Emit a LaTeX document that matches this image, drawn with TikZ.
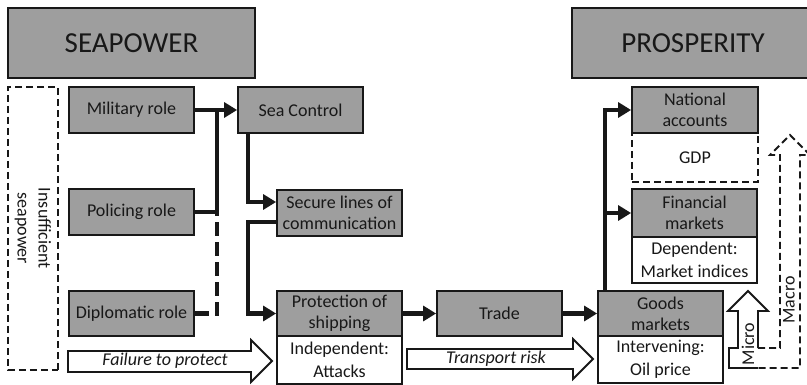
\documentclass[tikz,border=0pt]{standalone}
\usepackage{fontspec}
\setmainfont{Carlito}
\usetikzlibrary{arrows.meta}
\definecolor{boxgray}{RGB}{158,158,158}
\definecolor{ink}{RGB}{24,24,24}

\begin{document}
\begin{tikzpicture}[x=1pt,y=-1pt,
  base/.style={draw=ink, line width=1.8pt, inner sep=0pt, align=center, text=ink,
               font=\fontsize{18}{21}\selectfont},
  gbox/.style={base, fill=boxgray, minimum width=125pt, minimum height=46pt},
  wbox/.style={base, fill=white, minimum width=125pt, minimum height=47pt,
               font=\fontsize{18}{23}\selectfont},
  titlebox/.style={base, fill=boxgray, minimum height=70pt,
               font=\fontsize{29}{32}\selectfont},
  dbox/.style={base, dash pattern=on 7pt off 4pt},
  conn/.style={draw=ink, line width=4.2pt, line join=miter},
  arr/.style={-{Triangle[length=13pt,width=15pt]}},
  block/.style={draw=ink, line width=1.8pt, fill=white, line join=miter},
  lbl/.style={text=ink, inner sep=0pt, font=\fontsize{18}{21}\selectfont\itshape},
  vlbl/.style={text=ink, inner sep=0pt, font=\fontsize{18}{21}\selectfont},
]
\useasboundingbox (0,0) rectangle (807,385);

% headline boxes
\node[titlebox, minimum width=247pt] (seapower) at (131.5,43) {SEAPOWER};
\node[titlebox, minimum width=242pt] (prosperity) at (693,43) {PROSPERITY};

% roles of seapower
\node[dbox, minimum width=283pt, minimum height=50pt, rotate=-90] (insuff) at (33,228.5)
  {Insufficient\\seapower};
\node[gbox] (military) at (131.5,110) {Military role};
\node[gbox] (policing) at (131.5,212) {Policing role};
\node[gbox, minimum height=45pt] (diplomatic) at (131.5,313.5) {Diplomatic role};

% sea control chain
\node[gbox] (seacontrol) at (300.5,110) {Sea Control};
\node[gbox] (secure) at (339.5,213) {Secure lines of\\communication};
\node[gbox, minimum height=45pt] (protection) at (339.5,313.5) {Protection of\\shipping};
\node[wbox, minimum height=48pt] (protectionw) at (339.5,360) {Independent:\\Attacks};
\node[gbox, minimum height=45pt] (trade) at (499.5,313.5) {Trade};

% prosperity side
\node[gbox, minimum height=45pt] (goods) at (660.5,313.5) {Goods\\markets};
\node[wbox] (goodsw) at (660.5,359.5) {Intervening:\\Oil price};
\node[dbox, minimum width=126pt, minimum height=49pt] (gdp) at (695,157.5) {GDP};
\node[gbox, minimum width=126pt] (national) at (695,110) {National\\accounts};
\node[gbox, minimum height=48pt] (financial) at (694.5,213) {Financial\\markets};
\node[wbox, minimum height=46pt] (financialw) at (694.5,260) {Dependent:\\Market indices};

% helper positions for the connector bends
\coordinate (j1) at (217,110);
\coordinate (j2) at (217,212);
\coordinate (xa) at (248,0);
\coordinate (ya) at (0,202);
\coordinate (yb) at (0,222);
\coordinate (xc) at (605,0);

% connectors
\draw[conn, arr] (military.east) -- (seacontrol.west);
\draw[conn] (policing.east) -| (j1);
\draw[conn, dash pattern=on 14pt off 6pt] (diplomatic.east) -| (j2);
\draw[conn, arr] (seacontrol.south -| xa) |- (secure.west |- ya);
\draw[conn, arr] (secure.west |- yb) -- (yb -| xa) -- (xa |- protection.west) -- (protection.west);
\draw[conn, arr] (protection.east) -- (trade.west);
\draw[conn, arr] (trade.east) -- (goods.west);
\draw[conn, arr] (goods.north -| xc) |- (national.west);
\draw[conn, arr] (xc |- financial.west) -- (financial.west);

% hollow block arrows
\draw[block] (68,351) -- (251,351) -- (251,340) -- (272,361) -- (251,382) -- (251,372)
  -- (68,372) -- cycle;
\node[lbl] (failure) at (165,361) {Failure to protect};
\draw[block] (407,349) -- (573,349) -- (573,339) -- (593,359) -- (573,379) -- (573,369)
  -- (407,369) -- cycle;
\node[lbl] (transport) at (496,359) {Transport risk};

% micro / macro arrows
\draw[block, fill=none] (758,348) -- (758,311) -- (768,311) -- (748,291) -- (728,311)
  -- (738,311) -- (738,348) -- (729,348) -- (729,368) -- (758,368);
\draw[draw=ink, line width=1.8pt, dash pattern=on 7pt off 4pt, line join=miter]
  (758,348) -- (780,348) -- (780,155) -- (770,155) -- (790,135) -- (810,155)
  -- (800,155) -- (800,368) -- (758,368);
\node[vlbl, rotate=90] (micro) at (748,344) {Micro};
\node[vlbl, rotate=90] (macro) at (789,300) {Macro};
\end{tikzpicture}
\end{document}
